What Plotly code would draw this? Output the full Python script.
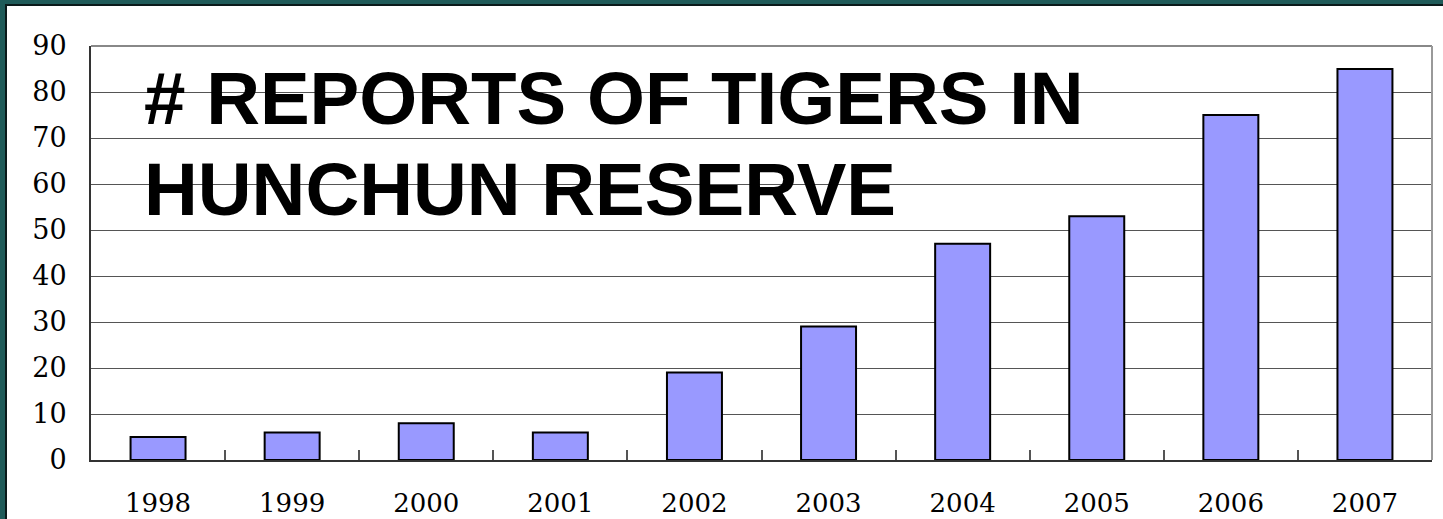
import plotly.graph_objects as go

years = ["1998", "1999", "2000", "2001", "2002", "2003", "2004", "2005", "2006", "2007"]
reports = [5, 6, 8, 6, 19, 29, 47, 53, 75, 85]
y_ticks = [0, 10, 20, 30, 40, 50, 60, 70, 80, 90]
title_lines = ["# REPORTS OF TIGERS IN", "HUNCHUN RESERVE"]

W, H = 1443, 519
ML, MR, MT, MB = 91, 11, 46, 59
PW, PH = W - ML - MR, H - MT - MB


def px(x):
    return (x - ML) / PW


def py(y):
    return (H - MB - y) / PH


fig = go.Figure()
fig.add_trace(go.Bar(
    x=years, y=reports, width=0.41,
    marker=dict(color="#9999ff", line=dict(color="#000000", width=2)),
    hoverinfo="x+y",
))

teal = "#1f5b59"
shapes = [
    dict(type="rect", xref="paper", yref="paper", x0=px(0), x1=px(5), y0=py(H), y1=py(0),
         fillcolor=teal, line=dict(width=0), layer="below"),
    dict(type="rect", xref="paper", yref="paper", x0=px(5), x1=px(7), y0=py(H), y1=py(4),
         fillcolor="#0a1a1a", line=dict(width=0), layer="below"),
    dict(type="rect", xref="paper", yref="paper", x0=px(0), x1=px(W), y0=py(4), y1=py(0),
         fillcolor=teal, line=dict(width=0), layer="below"),
    dict(type="rect", xref="paper", yref="paper", x0=px(5), x1=px(W), y0=py(6), y1=py(4),
         fillcolor="#0a1a1a", line=dict(width=0), layer="below"),
    dict(type="line", xref="paper", yref="paper", x0=0, x1=1, y0=1, y1=1,
         line=dict(color="#888888", width=2)),
    dict(type="line", xref="paper", yref="paper", x0=1, x1=1, y0=0, y1=1,
         line=dict(color="#999999", width=2)),
]

annotations = [
    dict(text=title_lines[0], xref="paper", yref="paper", x=px(142), y=py(98),
         xanchor="left", yanchor="middle", showarrow=False,
         font=dict(family="Liberation Sans", size=74.5, color="#000000", weight="bold")),
    dict(text=title_lines[1], xref="paper", yref="paper", x=px(142), y=py(189),
         xanchor="left", yanchor="middle", showarrow=False,
         font=dict(family="Liberation Sans", size=74.5, color="#000000", weight="bold")),
]

fig.update_layout(
    width=W, height=H,
    margin=dict(l=ML, r=MR, t=MT, b=MB, pad=0),
    paper_bgcolor="#ffffff", plot_bgcolor="#ffffff",
    showlegend=False,
    shapes=shapes,
    annotations=annotations,
    bargap=0.59,
    xaxis=dict(
        type="category", showgrid=False, showline=True, linecolor="#333333", linewidth=2,
        ticks="inside", tickson="boundaries", ticklen=10, tickcolor="#555555", tickwidth=2,
        tickfont=dict(family="DejaVu Serif", size=26, color="#000000"),
        ticklabelstandoff=19, zeroline=False, fixedrange=True, automargin=False,
    ),
    yaxis=dict(
        range=[0, 90], tickvals=y_ticks, ticktext=[str(v) for v in y_ticks],
        showgrid=True, gridcolor="#555555", gridwidth=1,
        showline=True, linecolor="#333333", linewidth=2,
        ticks="", tickfont=dict(family="DejaVu Serif", size=27, color="#000000"),
        ticklabelstandoff=17, zeroline=False, fixedrange=True, automargin=False,
    ),
)

fig.write_html("out.html", config={"displayModeBar": False},
               post_script="document.body.style.margin='0';document.body.style.overflow='hidden';")
